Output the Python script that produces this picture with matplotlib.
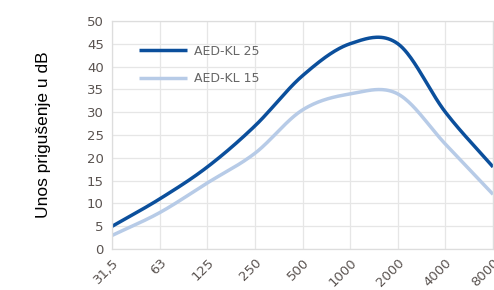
import numpy as np
import matplotlib
matplotlib.use("Agg")
import matplotlib.pyplot as plt

# frequency bands (Hz) and insertion loss (dB)
freq_labels = ["31,5", "63", "125", "250", "500", "1000", "2000", "4000", "8000"]
kl25 = [5, 11, 18, 27, 38, 45, 45, 30, 18]
kl15 = [3, 8, 14.5, 21, 30.5, 34, 34, 23, 12]
series_names = ["AED-KL 25", "AED-KL 15"]
series_colors = ["#0b4f9c", "#b7cbe7"]


def smooth(ys, steps=40):
    # Catmull-Rom curve through the points, like a spreadsheet "smoothed line"
    ys = np.asarray(ys, dtype=float)
    xs = np.arange(len(ys), dtype=float)
    px = np.concatenate([[2 * xs[0] - xs[1]], xs, [2 * xs[-1] - xs[-2]]])
    py = np.concatenate([[2 * ys[0] - ys[1]], ys, [2 * ys[-1] - ys[-2]]])
    out_x, out_y = [], []
    t = np.linspace(0, 1, steps, endpoint=False)
    for i in range(1, len(px) - 2):
        for p, out in ((px, out_x), (py, out_y)):
            p0, p1, p2, p3 = p[i - 1], p[i], p[i + 1], p[i + 2]
            out.extend(0.5 * (2 * p1 + (-p0 + p2) * t
                              + (2 * p0 - 5 * p1 + 4 * p2 - p3) * t ** 2
                              + (-p0 + 3 * p1 - 3 * p2 + p3) * t ** 3))
    out_x.append(xs[-1])
    out_y.append(ys[-1])
    return out_x, out_y


fig = plt.figure(figsize=(4.94, 2.90), dpi=100)
ax = fig.add_axes([0.227, 0.141, 0.771, 0.787])

for vals, name, col in zip([kl25, kl15], series_names, series_colors):
    sx, sy = smooth(vals)
    ax.plot(sx, sy, color=col, lw=2.5, label=name, solid_capstyle="butt")

ax.set_xlim(0, len(freq_labels) - 1)
ax.set_ylim(0, 50)
ax.set_yticks(range(0, 51, 5))
ax.set_xticks(range(len(freq_labels)))
ax.set_xticklabels(freq_labels, rotation=45, ha="right", rotation_mode="anchor")
ax.tick_params(length=0, labelsize=9.5, labelcolor="#5a5350", pad=6)
ax.tick_params(axis="x", pad=5)
ax.grid(True, color="#e6e6e6", lw=0.9)
ax.set_axisbelow(True)
for s in ax.spines.values():
    s.set_color("#dddddd")
    s.set_linewidth(0.9)

ax.set_ylabel("Unos prigušenje u dB", fontsize=12.5, family="Liberation Sans",
              color="black", labelpad=26)

leg = ax.legend(loc="upper left", bbox_to_anchor=(0.04, 0.945), frameon=False,
                fontsize=9, handlelength=3.9, handletextpad=0.55, labelspacing=1.15)
for t in leg.get_texts():
    t.set_color("#666666")

fig.savefig("out.png", dpi=100)
